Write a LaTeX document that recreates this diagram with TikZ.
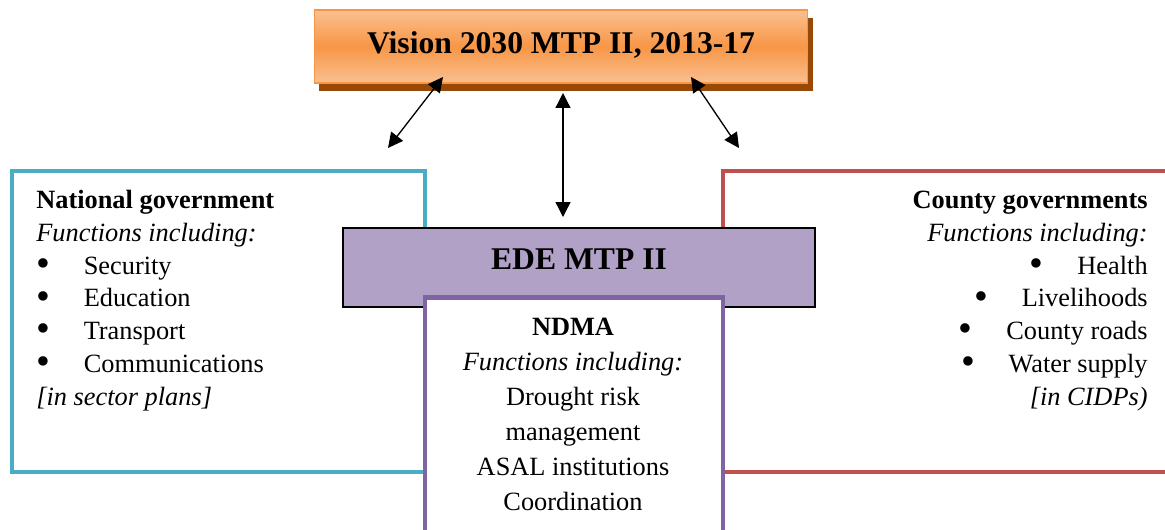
\documentclass[tikz,border=0pt]{standalone}
\usepackage{fontspec}
\usepackage{graphicx}
\setmainfont{Liberation Serif}
\usetikzlibrary{arrows.meta,shadows}
\definecolor{natcyan}{HTML}{4BACC6}
\definecolor{cntred}{HTML}{C0504D}
\definecolor{ndmapurple}{HTML}{8064A2}
\definecolor{edelilac}{HTML}{B2A1C7}
\definecolor{vislight}{HTML}{FAC090}
\definecolor{visorange}{HTML}{F79646}
\definecolor{visshadow}{HTML}{984807}
\newcommand\bulitem{\makebox[27pt][l]{\raisebox{-1.3pt}{\scalebox{1.5}{\textbullet}}}}
\tikzset{
  biarrow/.style={{Triangle[length=8.5pt,width=8.5pt]}-{Triangle[length=8.5pt,width=8.5pt]}, line width=0.75pt},
  govbox/.style={line width=2.8pt},
  bodytext/.style={font=\fontsize{15}{18.6}\selectfont, inner sep=0pt},
  titletext/.style={font=\fontsize{18}{22}\selectfont\bfseries}
}
\begin{document}
\begin{tikzpicture}[x=0.02cm, y=-0.02cm]
  \path[use as bounding box, clip] (0,0) rectangle (1165,529);
  % government boxes
  \draw[govbox, natcyan] (12,171) rectangle (425,472);
  \draw[govbox, cntred] (1180,171) -- (723,171) -- (723,472) -- (1180,472);
  % plan boxes
  \node[titletext, draw=visorange, line width=0.6pt, top color=vislight, bottom color=vislight, middle color=visorange,
        drop shadow={fill=visshadow, opacity=1, shadow xshift=0.1cm, shadow yshift=-0.15cm},
        minimum width=9.88cm, minimum height=1.46cm, text height=19.4pt, text depth=12pt] (vision) at (561,46.5) {Vision 2030 MTP II, 2013-17};
  \node[titletext, draw=black, fill=edelilac, line width=0.9pt, minimum width=9.44cm, minimum height=1.58cm,
        text height=12pt, text depth=10.3pt] (ede) at (579,267.5) {EDE MTP II};
  \draw[govbox, ndmapurple, fill=white] (425,560) -- (425,297.5) -- (723,297.5) -- (723,560);
  % texts (anchored on the last line)
  \node[bodytext, anchor=base west, align=left] (nat) at (36,405) {\textbf{National government}\\
    \textit{Functions including:}\\
    \bulitem Security\\
    \bulitem Education\\
    \bulitem Transport\\
    \bulitem Communications\\
    \textit{[in sector plans]}};
  \node[bodytext, anchor=base east, align=right] (cnt) at (1148,405) {\textbf{County governments}\\
    \textit{Functions including:}\\
    \bulitem Health\\
    \bulitem Livelihoods\\
    \bulitem County roads\\
    \bulitem Water supply\\
    \textit{[in CIDPs)}};
  \node[bodytext, font=\fontsize{15}{19.9}\selectfont, anchor=base, align=center] (ndma) at (573,510) {\textbf{NDMA}\\
    \textit{Functions including:}\\
    Drought risk\\
    management\\
    ASAL institutions\\
    Coordination};
  % arrows
  \coordinate (visL) at (443,77);
  \coordinate (natTip) at (388,148);
  \coordinate (visM) at (563,93);
  \coordinate (edeTip) at (563,217);
  \coordinate (visR) at (691,77);
  \coordinate (cntTip) at (739,148);
  \draw[biarrow] (visL) -- (natTip);
  \draw[biarrow] (visM) -- (edeTip);
  \draw[biarrow] (visR) -- (cntTip);
\end{tikzpicture}
\end{document}
